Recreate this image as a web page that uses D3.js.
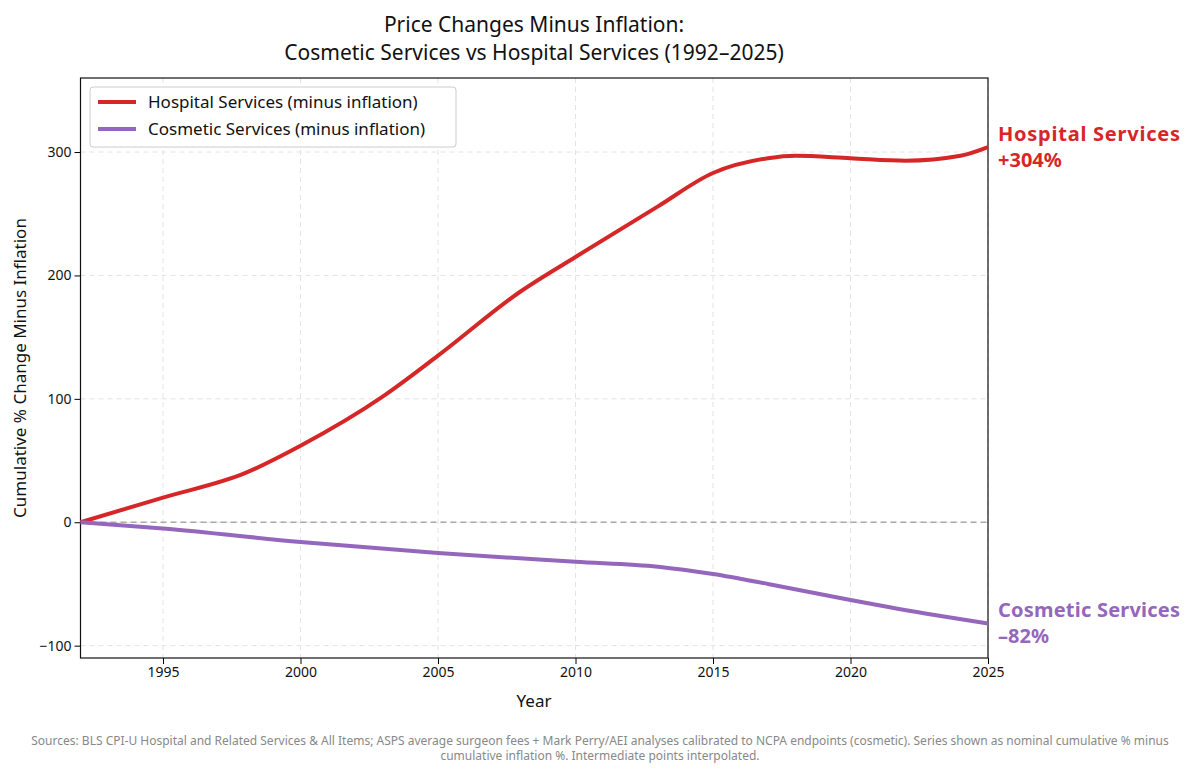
<!DOCTYPE html>
<html><head><meta charset="utf-8">
<script src="https://cdn.jsdelivr.net/npm/d3@7"></script>
<style>body{margin:0;background:#fff}text{font-family:"Noto Sans",sans-serif}</style>
</head><body>
<svg id="c" width="1200" height="773"></svg>
<script>
// values
const hospYears = [1992,1995,1998,2000,2003,2005,2008,2010,2013,2015,2017,2018,2020,2022,2024,2025];
const hospVals  = [0,20,40,62,102,135,187,215,256,283,295,297,295,293,297,304];
const cosYears  = [1992,1995,2000,2005,2010,2013,2015,2017,2020,2023,2025];
const cosVals   = [0,-5,-16,-25,-32,-36,-42,-50,-63,-75,-82];
const xTicks = [1995,2000,2005,2010,2015,2020,2025];
const yTicks = [-100,0,100,200,300];

const svg = d3.select("#c");
const m = {l:80.5, r:988, t:78, b:658};
const x = d3.scaleLinear().domain([1992,2025]).range([m.l,m.r]);
const y = d3.scaleLinear().domain([-110,360]).range([m.b,m.t]);

// grid
svg.append("g").selectAll("line").data(xTicks).join("line")
  .attr("x1",d=>x(d)).attr("x2",d=>x(d)).attr("y1",m.t).attr("y2",m.b)
  .attr("stroke","#e3e3e3").attr("stroke-dasharray","5,4");
svg.append("g").selectAll("line").data(yTicks).join("line")
  .attr("x1",m.l).attr("x2",m.r).attr("y1",d=>y(d)).attr("y2",d=>y(d))
  .attr("stroke","#e3e3e3").attr("stroke-dasharray","5,4");
svg.append("line").attr("x1",m.l).attr("x2",m.r).attr("y1",y(0)).attr("y2",y(0))
  .attr("stroke","#aaa").attr("stroke-width",1.5).attr("stroke-dasharray","6,4");

const ax = svg.append("g").attr("transform",`translate(0,${m.b})`)
  .call(d3.axisBottom(x).tickValues(xTicks).tickFormat(d3.format("d")).tickSizeOuter(0));
const ay = svg.append("g").attr("transform",`translate(${m.l},0)`)
  .call(d3.axisLeft(y).tickValues(yTicks).tickFormat(d=>d<0?"\u2212"+(-d):d).tickSizeOuter(0));
[ax,ay].forEach(g=>{g.selectAll("text").attr("font-size",14).attr("fill","#111");g.select(".domain").remove();});
svg.append("rect").attr("x",m.l).attr("y",m.t).attr("width",m.r-m.l).attr("height",m.b-m.t)
  .attr("fill","none").attr("stroke","#111").attr("stroke-width",1.2);

const line = d3.line().x(d=>x(d[0])).y(d=>y(d[1])).curve(d3.curveMonotoneX);
const red="#d62728", purple="#9467bd";
svg.append("path").datum(d3.zip(hospYears,hospVals)).attr("d",line)
  .attr("fill","none").attr("stroke",red).attr("stroke-width",4);
svg.append("path").datum(d3.zip(cosYears,cosVals)).attr("d",line)
  .attr("fill","none").attr("stroke",purple).attr("stroke-width",4);

// end labels
function endLab(v,c,name,txt){
  svg.append("text").attr("x",998).attr("y",y(v)-6).attr("fill",c)
    .attr("font-size",20).attr("font-weight","bold").attr("textLength",182).text(name);
  svg.append("text").attr("x",998).attr("y",y(v)+20).attr("fill",c)
    .attr("font-size",20).attr("font-weight","bold").text(txt);
}
endLab(304,red,"Hospital Services","+304%");
endLab(-82,purple,"Cosmetic Services","\u201382%");

// legend
const lg = svg.append("g").attr("transform","translate(90,87)");
lg.append("rect").attr("width",366).attr("height",60).attr("rx",3)
  .attr("fill","#fff").attr("stroke","#ccc");
[["Hospital Services (minus inflation)",red],["Cosmetic Services (minus inflation)",purple]].forEach((d,i)=>{
  lg.append("line").attr("x1",8).attr("x2",46).attr("y1",15+i*27).attr("y2",15+i*27)
    .attr("stroke",d[1]).attr("stroke-width",4);
  lg.append("text").attr("x",58).attr("y",21+i*27).attr("font-size",17).attr("fill","#111").text(d[0]);
});

// titles
svg.append("text").attr("x",534).attr("y",32).attr("text-anchor","middle").attr("font-size",21)
  .attr("fill","#111").text("Price Changes Minus Inflation:");
svg.append("text").attr("x",534).attr("y",60).attr("text-anchor","middle").attr("font-size",21)
  .attr("fill","#111").text("Cosmetic Services vs Hospital Services (1992\u20132025)");
svg.append("text").attr("x",534).attr("y",707).attr("text-anchor","middle").attr("font-size",17)
  .attr("fill","#111").text("Year");
svg.append("text").attr("transform","translate(26,368) rotate(-90)").attr("text-anchor","middle")
  .attr("font-size",17).attr("fill","#111").text("Cumulative % Change Minus Inflation");
svg.append("text").attr("x",600).attr("y",745).attr("text-anchor","middle").attr("font-size",12)
  .attr("fill","#888").text("Sources: BLS CPI-U Hospital and Related Services & All Items; ASPS average surgeon fees + Mark Perry/AEI analyses calibrated to NCPA endpoints (cosmetic). Series shown as nominal cumulative % minus");
svg.append("text").attr("x",600).attr("y",760).attr("text-anchor","middle").attr("font-size",12)
  .attr("fill","#888").text("cumulative inflation %. Intermediate points interpolated.");
</script>
</body></html>
